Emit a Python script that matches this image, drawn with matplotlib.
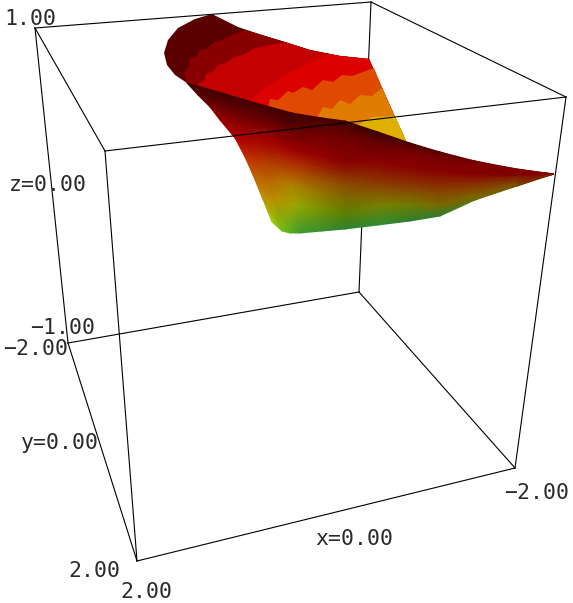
import numpy as np
import matplotlib
matplotlib.use("Agg")
import matplotlib.pyplot as plt
from matplotlib.colors import to_rgb

corners = {
    "top_back_left": (35, 28), "top_front_left": (105, 151),
    "top_front_right": (566, 97), "top_back_right": (371, 2),
    "bot_back_left": (68, 343), "bot_front_left": (137, 561),
    "bot_front_right": (515, 468), "bot_back_right": (359, 292),
}
hidden_edges = [("top_back_right", "bot_back_right")]
box_edges = [
    ("top_back_left", "top_front_left"), ("top_front_left", "top_front_right"),
    ("top_front_right", "top_back_right"), ("top_back_right", "top_back_left"),
    ("bot_back_left", "bot_front_left"), ("bot_front_left", "bot_front_right"),
    ("bot_front_right", "bot_back_right"), ("bot_back_right", "bot_back_left"),
    ("top_back_left", "bot_back_left"), ("top_front_left", "bot_front_left"),
    ("top_front_right", "bot_front_right"),
]

# back sheet: whole outline first, then each colour band painted over the last
back_outline = [(212, 14), (195, 19), (178, 28), (168, 40), (164, 53), (167, 65), (175, 75),
                (187, 83), (210, 100), (300, 130), (407, 150), (406, 141), (395, 117),
                (382, 88), (369, 59), (340, 56), (310, 50), (285, 42), (262, 35), (238, 27)]
back_base_color = "#5a0000"
back_colors = ["#8a0000", "#c40000", "#dc0000", "#e04a00", "#e07c00", "#e0b000"]
back_boundaries = [
    [(186, 82), (184, 72), (190, 66), (189, 59), (197, 56), (199, 50), (207, 49), (214, 42),
     (222, 40), (232, 35), (245, 30)],
    [(200, 92), (198, 84), (205, 80), (206, 74), (214, 71), (218, 65), (226, 63), (234, 57),
     (243, 55), (255, 48), (265, 46), (285, 42)],
    [(245, 105), (262, 90), (290, 72), (320, 58), (330, 54)],
    [(268, 107), (270, 99), (278, 100), (288, 91), (293, 93), (303, 87), (312, 90), (323, 80),
     (333, 82), (342, 75), (352, 76), (374, 68)],
    [(317, 118), (323, 107), (332, 109), (340, 100), (350, 104), (360, 95), (372, 96), (382, 88)],
    [(357, 125), (373, 117), (395, 116)],
]
back_far_sides = [
    [(262, 35), (285, 42), (310, 50), (340, 56), (369, 59), (382, 88), (395, 117), (406, 141)],
    [(310, 50), (340, 56), (369, 59), (382, 88), (395, 117), (406, 141)],
    [(340, 56), (369, 59), (382, 88), (395, 117), (406, 141)],
    [(382, 88), (395, 117), (406, 141)],
    [(395, 117), (406, 141)],
    [(406, 141)],
]
back_under_crest = [(407, 150), (300, 130)]

# front sheet, rows run from the crest down, columns run left to the tip
front_x = [
    [187, 198, 210, 220, 235, 245, 253, 262, 272],
    [222, 228, 235, 247, 255, 262, 268, 274, 282],
    [252, 256, 260, 268, 274, 280, 285, 289, 290],
    [292, 292, 292, 292, 292, 292, 292, 296, 300],
    [322] * 9,
    [345] * 9,
    [378] * 9,
    [410] * 9,
    [440] * 9,
    [475] * 9,
    [517] * 9,
    [554] * 9,
]
front_y = [
    [83, 95, 107, 120, 138, 157, 175, 197, 222],
    [93, 104, 114, 130, 143, 160, 178, 200, 231],
    [102, 112, 122, 140, 152, 168, 183, 204, 233],
    [113, 122, 130, 150, 163, 173, 185, 205, 233],
    [118, 125, 134, 156, 168, 180, 193, 208, 231],
    [121, 129, 139, 162, 174, 186, 199, 213, 229],
    [132, 137, 143, 160, 168, 180, 190, 205, 225],
    [143, 147, 152, 166, 174, 183, 192, 205, 221],
    [152, 155, 158, 170, 177, 185, 193, 205, 216],
    [161, 163, 166, 174, 179, 184, 189, 195, 200],
    [169, 170, 172, 175, 177, 180, 182, 184, 186],
    [174] * 9,
]
front_colors = [
    ["#420000", "#5a0000", "#7a0000", "#980000", "#b00000", "#c03000", "#c06000", "#c09000", "#a8d008"],
    ["#400000", "#580000", "#700000", "#980000", "#aa0800", "#b83400", "#b86000", "#b89000", "#70c018"],
    ["#400000", "#5a0000", "#720000", "#a00000", "#a81800", "#b04800", "#b47800", "#a8a000", "#58b020"],
    ["#420000", "#4a0000", "#650000", "#a00000", "#b03000", "#b05000", "#b08000", "#98a800", "#3f9830"],
    ["#420000", "#580000", "#700000", "#940000", "#9a2400", "#9c5000", "#947400", "#7c9000", "#389030"],
    ["#400000", "#5a0000", "#720000", "#880000", "#8a2800", "#8a5000", "#7c6c00", "#5e8000", "#2f8030"],
    ["#3c0000", "#500000", "#640000", "#880000", "#8a1000", "#8a3000", "#8a5000", "#788000", "#2f8c30"],
    ["#480000", "#600000", "#760000", "#880000", "#8a1400", "#8a3000", "#865000", "#727c00", "#2f8030"],
    ["#5a0000", "#660000", "#780000", "#860000", "#881400", "#882c00", "#844800", "#7a6800", "#2f7e30"],
    ["#720000", "#780000", "#800000", "#820000", "#881800", "#883000", "#864400", "#806000", "#6a7400"],
    ["#800000", "#800000", "#800000", "#800000", "#841c00", "#803000", "#7c4000", "#7a5000", "#7a5000"],
    ["#800000"] * 9,
]

labels = ["1.00", "z=0.00", "\u22121.00", "\u22122.00", "y=0.00", "2.00", "2.00", "x=0.00", "\u22122.00"]
label_x = [4, 9, 30, 3, 21, 68, 120, 315, 504]
label_y = [19, 185, 328, 349, 443, 571, 592, 539, 493]

fig = plt.figure(figsize=(5.73, 6.03), dpi=100)
ax = fig.add_axes([0, 0, 1, 1])
ax.set_xlim(0, 573)
ax.set_ylim(603, 0)
ax.axis("off")


def draw_edges(edges, zorder):
    for a, b in edges:
        xa, ya = corners[a]
        xb, yb = corners[b]
        ax.plot([xa, xb], [ya, yb], color="black", lw=0.8, zorder=zorder)


draw_edges(hidden_edges, 1)

ax.fill(*zip(*back_outline), color=back_base_color, lw=0, zorder=2)
for boundary, far_side, col in zip(back_boundaries, back_far_sides, back_colors):
    ax.fill(*zip(*(boundary + far_side + back_under_crest)), color=col, lw=0, zorder=2)

rgb = np.array([[to_rgb(c) for c in col] for col in front_colors])
ax.pcolormesh(np.array(front_x, float), np.array(front_y, float), rgb, shading="gouraud", zorder=3)

draw_edges(box_edges, 4)

for text, x, y in zip(labels, label_x, label_y):
    ax.text(x, y, text, family="DejaVu Sans Mono", fontsize=15.5, color="#2a2a2a",
            ha="left", va="center", zorder=5)

fig.savefig("out.png", dpi=100)
